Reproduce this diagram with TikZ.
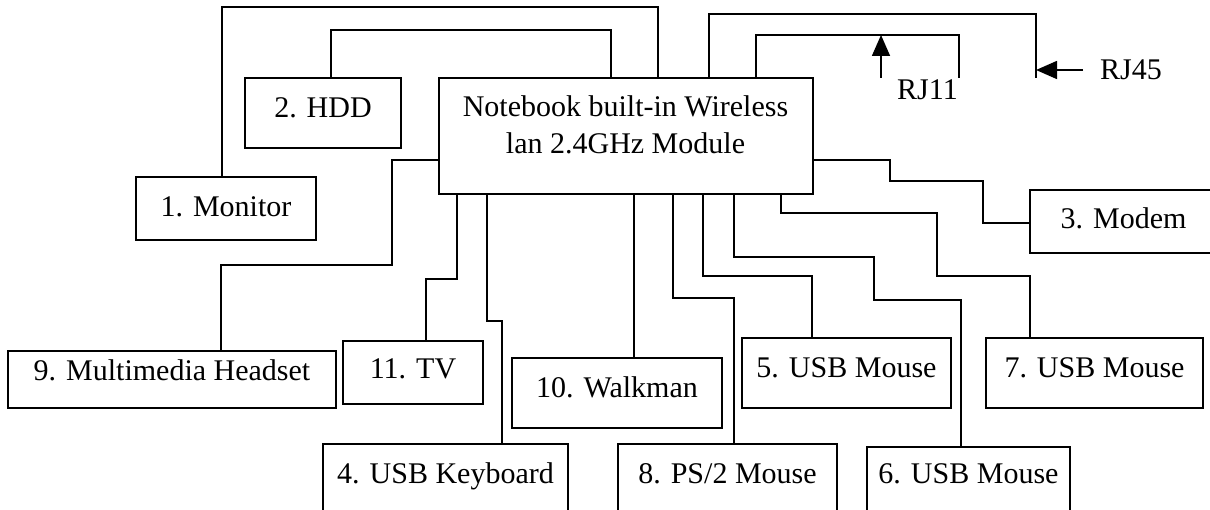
\documentclass[tikz,border=0pt]{standalone}
\usepackage{fontspec}
\setmainfont{Liberation Serif}
\usetikzlibrary{arrows.meta}
\tikzset{
  wire/.style={line width=1.6pt},
  devbox/.style n args={3}{draw, line width=1.6pt, anchor=north, inner sep=0pt,
    minimum width=#1, text height=#3, text depth=#2-#3},
  txt/.style={font=\fontsize{30}{36.6}\selectfont},
  tip/.style={-{Triangle[length=21pt,width=18pt]}, line width=1.6pt}
}
\begin{document}
\begin{tikzpicture}[x=1pt,y=-1pt,txt]
\clip (0,0) rectangle (1210,510);
\fill[white] (0,0) rectangle (1210,510);
% main box
\node[draw, line width=1.6pt, anchor=north west, inner sep=0pt, minimum width=374pt, minimum height=116pt] (main) at (438,77) {};
\node[align=center, inner sep=0pt] (maintext) at (625.5,125) {Notebook built-in Wireless\\lan 2.4GHz Module};
% devices
\node[devbox={180pt}{63pt}{40pt}] (mon) at (226,176) {1. Monitor};
\node[devbox={156pt}{70pt}{40pt}] (hdd) at (323,77) {2. HDD};
\node[devbox={187pt}{63pt}{39pt}] (modem) at (1123.5,189) {3. Modem};
\node[devbox={328pt}{57pt}{30pt}] (head) at (172,350) {9. Multimedia Headset};
\node[devbox={140pt}{63pt}{38pt}] (tv) at (413,340) {11. TV};
\node[devbox={210pt}{70pt}{40pt}] (walk) at (617,357) {10. Walkman};
\node[devbox={245pt}{100pt}{40pt}] (kb) at (445.5,443) {4. USB Keyboard};
\node[devbox={219pt}{100pt}{40pt}] (ps2) at (727.5,443) {8. PS/2 Mouse};
\node[devbox={209pt}{70pt}{40pt}] (m5) at (846.5,337) {5. USB Mouse};
\node[devbox={203pt}{100pt}{37pt}] (m6) at (968.5,446) {6. USB Mouse};
\node[devbox={217pt}{70pt}{40pt}] (m7) at (1094.5,337) {7. USB Mouse};
% labels
\node[anchor=base, inner sep=0pt] (rj11) at (927.5,100) {RJ11};
\node[anchor=base west, inner sep=0pt] (rj45) at (1100,80) {RJ45};
% free ends
\coordinate (rj45end) at (1036,78);
\coordinate (rj11end) at (959,78);
\coordinate (rj45from) at (1083,70);
\coordinate (rj45to) at (1036,70);
\coordinate (rj11from) at (881,78);
\coordinate (rj11to) at (881,35);
% connectors
\draw[wire] (658,0 |- main.north) |- (222,7) -- (222,0 |- mon.north);
\draw[wire] (611,0 |- main.north) |- (331,30) -- (331,0 |- hdd.north);
\draw[wire] (709,0 |- main.north) |- (1036,14) -- (rj45end);
\draw[wire] (756,0 |- main.north) |- (959,35) -- (rj11end);
\draw[tip] (rj45from) -- (rj45to);
\draw[tip] (rj11from) -- (rj11to);
\draw[wire] (main.west |- 0,160) -| (392,265) -| (221,0 |- head.north);
\draw[wire] (main.east |- 0,160) -| (890,181) -| (983,223) -- (modem.west |- 0,223);
\draw[wire] (457,0 |- main.south) |- (426,279) -- (426,0 |- tv.north);
\draw[wire] (487,0 |- main.south) |- (502,321) -- (502,0 |- kb.north);
\draw[wire] (634,0 |- main.south) -- (634,0 |- walk.north);
\draw[wire] (673,0 |- main.south) |- (734,298) -- (734,0 |- ps2.north);
\draw[wire] (703,0 |- main.south) |- (812,276) -- (812,0 |- m5.north);
\draw[wire] (734,0 |- main.south) |- (874,257) |- (961,300) -- (961,0 |- m6.north);
\draw[wire] (781,0 |- main.south) |- (937,213) |- (1030,276) -- (1030,0 |- m7.north);
\end{tikzpicture}
\end{document}
